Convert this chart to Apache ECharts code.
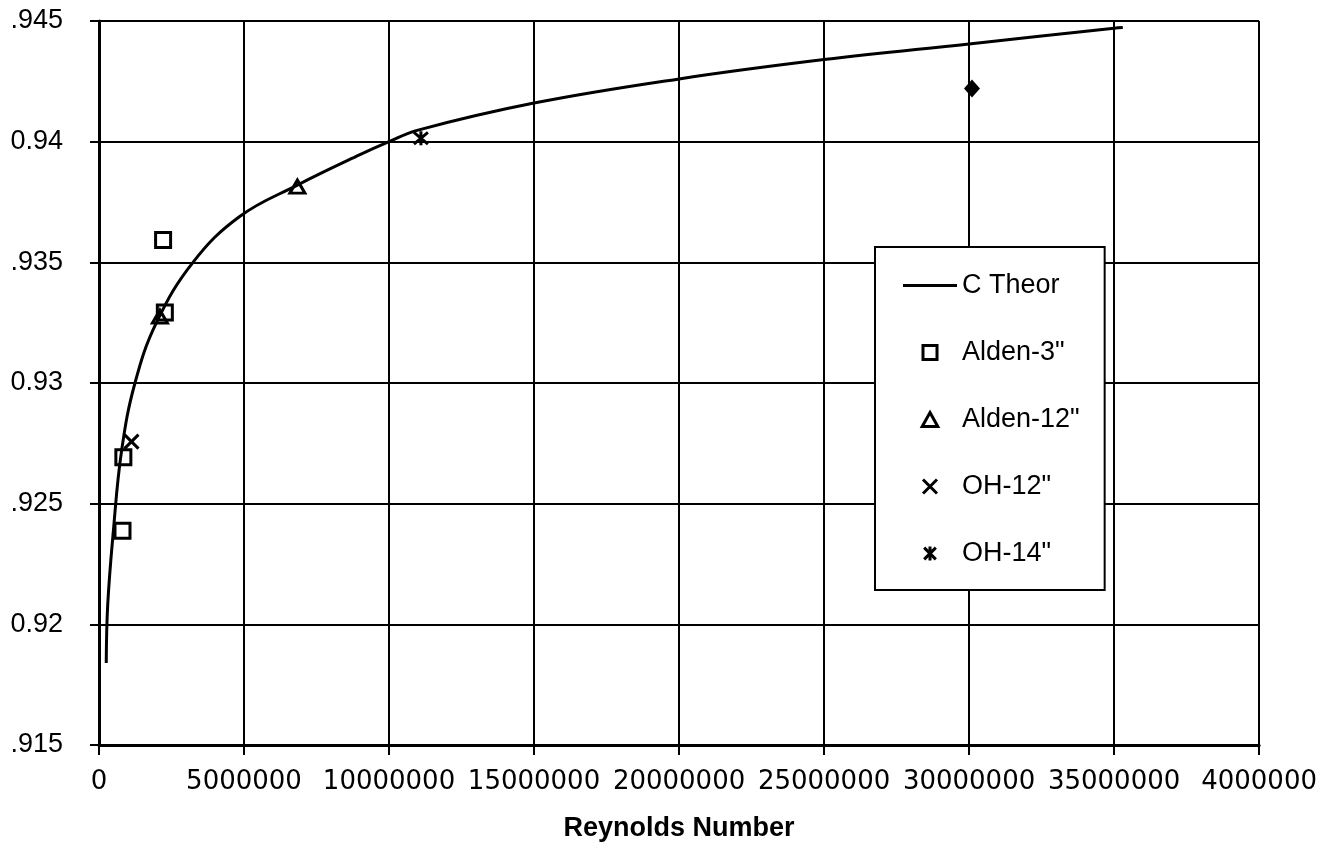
<!DOCTYPE html>
<html>
<head>
<meta charset="utf-8">
<script src="https://cdn.jsdelivr.net/npm/echarts@6/dist/echarts.min.js"></script>
<style>
html,body{margin:0;padding:0;background:#fff;}
#chart{width:1320px;height:855px;}
</style>
</head>
<body>
<div id="chart"></div>
<script>
// ---- data ----
var xTickLabels = ['0','5000000','10000000','15000000','20000000','25000000','30000000','35000000','4000000'];
var yTickLabels = ['.915','0.92','.925','0.93','.935','0.94','.945'];

var theorRe = [250000, 300000, 490000, 780000, 1240000, 1980000, 3240000, 4850000, 6840000, 8980000, 10000000, 11000000, 15000000, 20000000, 25000000, 30000000, 35000000, 35300000];
var theorC  = [0.9184, 0.9208, 0.9238, 0.9272, 0.9300, 0.9325, 0.9350, 0.9369, 0.9382, 0.93945, 0.9400, 0.94048, 0.9416, 0.9426, 0.9434, 0.94405, 0.9447, 0.94473];

var alden3Re = [810000, 840000, 2270000, 2210000];
var alden3C  = [0.92388, 0.92692, 0.93292, 0.93593];

var alden12Re = [2100000, 6840000];
var alden12C  = [0.93275, 0.93814];

var oh12Re = [1120000];
var oh12C  = [0.92757];

var oh14Re = [11100000];
var oh14C  = [0.94014];

var otherRe = [30100000];
var otherC  = [0.9422];

function pairs(xs, ys){ return xs.map(function(x,i){ return [x, ys[i]]; }); }

var FONT = "'Liberation Sans', Arial, Helvetica, sans-serif";
var WIDE = "'DejaVu Sans', Verdana, sans-serif";
var SQ = 'path://M0,0H10V10H0Z';
var TRI = 'path://M5,0L10,9L0,9Z';
var XS = 'path://M0,0L10,10M10,0L0,10';
var AST = 'path://M0,0L10,10M10,0L0,10M5,-1L5,11';
var LINEICON = 'path://M0,0H54V3H0Z';
var hollow = {color:'transparent', borderColor:'#000', borderWidth:3, opacity:1};

var chart = echarts.init(document.getElementById('chart'), null, {renderer:'canvas'});
chart.setOption({
  animation:false,
  backgroundColor:'#fff',
  textStyle:{fontFamily:FONT, color:'#000'},
  grid:{left:99, right:58, top:21, bottom:110, containLabel:false},
  legend:{
    orient:'vertical',
    left:875, top:247,
    padding:[25,25,23,28],
    itemGap:40,
    itemWidth:54, itemHeight:14,
    backgroundColor:'#fff',
    borderColor:'#000', borderWidth:2,
    itemStyle:{borderWidth:3, borderColor:'#000', opacity:1},
    textStyle:{fontFamily:FONT, fontSize:27, color:'#000'},
    data:[
      {name:'C Theor', icon:LINEICON, itemStyle:{color:'#000', borderWidth:0, opacity:1}},
      {name:'Alden-3"', icon:SQ, itemStyle:hollow},
      {name:'Alden-12"', icon:TRI, itemStyle:hollow},
      {name:'OH-12"', icon:XS, itemStyle:hollow},
      {name:'OH-14"', icon:AST, itemStyle:hollow}
    ]
  },
  xAxis:{
    type:'value', min:0, max:40000000, interval:5000000,
    name:'Reynolds Number', nameLocation:'middle', nameGap:70,
    nameTextStyle:{fontFamily:FONT, fontSize:27, fontWeight:'bold', color:'#000'},
    axisLine:{show:true, onZero:false, lineStyle:{color:'#000', width:3}},
    axisTick:{show:true, inside:false, length:10, lineStyle:{color:'#000', width:2}},
    axisLabel:{margin:24, fontFamily:WIDE, fontSize:26, color:'#000',
      formatter:function(v){ return xTickLabels[Math.round(v/5000000)]; }},
    splitLine:{show:true, lineStyle:{color:'#000', width:2}}
  },
  yAxis:{
    type:'value', min:0.915, max:0.945, interval:0.005,
    axisLine:{show:true, lineStyle:{color:'#000', width:3}},
    axisTick:{show:true, inside:false, length:9, lineStyle:{color:'#000', width:2}},
    axisLabel:{margin:36, fontFamily:FONT, fontSize:27, color:'#000',
      formatter:function(v){ return yTickLabels[Math.round((v-0.915)/0.005)]; }},
    splitLine:{show:true, lineStyle:{color:'#000', width:2}}
  },
  series:[
    {name:'C Theor', type:'line', data:pairs(theorRe, theorC), symbol:'none', showSymbol:false,
     smooth:0.4, lineStyle:{color:'#000', width:3}, itemStyle:{color:'#000'}, z:3},
    {name:'Alden-3"', type:'scatter', data:pairs(alden3Re, alden3C), symbol:SQ, symbolSize:15,
     itemStyle:hollow, z:4},
    {name:'Alden-12"', type:'scatter', data:pairs(alden12Re, alden12C), symbol:TRI, symbolSize:[15,13],
     itemStyle:hollow, z:4},
    {name:'OH-12"', type:'scatter', data:pairs(oh12Re, oh12C), symbol:XS, symbolSize:14,
     itemStyle:hollow, z:4},
    {name:'OH-14"', type:'scatter', data:pairs(oh14Re, oh14C), symbol:AST, symbolSize:14,
     itemStyle:hollow, z:4},
    {name:'Other', type:'scatter', data:pairs(otherRe, otherC), symbol:'diamond', symbolSize:[16,18],
     itemStyle:{color:'#000', opacity:1}, z:4}
  ]
});
</script>
</body>
</html>
